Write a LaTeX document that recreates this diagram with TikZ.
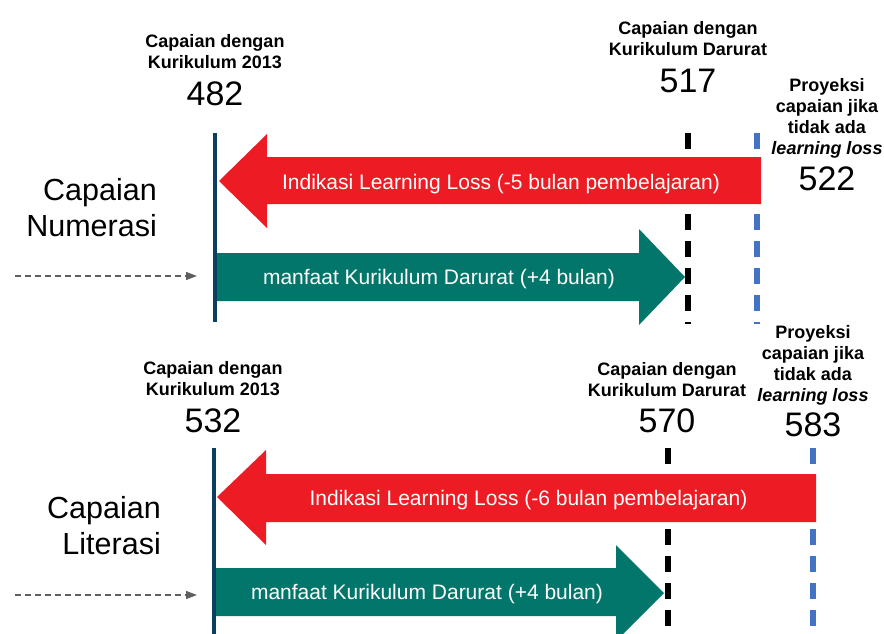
\documentclass[tikz,border=0pt]{standalone}
\usepackage{fontspec}
\setmainfont{Liberation Sans}
\usetikzlibrary{arrows.meta}
\definecolor{lossred}{HTML}{ED1C24}
\definecolor{gainteal}{HTML}{03766C}
\definecolor{axisnavy}{HTML}{0B3F5F}
\definecolor{projblue}{HTML}{4472C4}
\definecolor{inflowgray}{HTML}{5F5F5F}
\tikzset{
  caption/.style={align=center, inner sep=0pt,
                  font=\fontsize{18}{21}\selectfont\bfseries},
  score/.style={anchor=base, inner sep=0pt, font=\fontsize{34}{36}\selectfont},
  subject/.style={anchor=east, align=right, inner sep=0pt,
                  font=\fontsize{30.5}{36}\selectfont},
  bartext/.style={anchor=base, text=white, inner sep=0pt,
                  font=\fontsize{21}{24}\selectfont},
  axis/.style={draw=axisnavy, line width=4pt},
  markdar/.style={draw=black, line width=5.5pt, dash pattern=on 16pt off 11pt},
  markproj/.style={markdar, draw=projblue},
  inflow/.style={draw=inflowgray, line width=1.3pt, dash pattern=on 6pt off 4pt,
                 -{Triangle[length=11pt, width=8pt]}},
}

\begin{document}
\begin{tikzpicture}[x=1pt, y=-1pt]
  \useasboundingbox (0,0) rectangle (884,633);

  % --- numerasi (top) ---
  \draw[axis] (215,133) -- (215,322);
  \draw[markdar] (688,133) -- (688,324);
  \draw[markproj] (757,133) -- (757,324);
  \fill[lossred] (219,181) -- (267,134) -- (267,157) -- (761,157) -- (761,204)
    -- (267,204) -- (267,228) -- cycle;
  \fill[gainteal] (217,253) -- (639,253) -- (639,229) -- (685,277) -- (639,325)
    -- (639,301) -- (217,301) -- cycle;

  \node[caption] (numK13) at (215,52) {Capaian dengan\\Kurikulum 2013};
  \node[score] (numK13v) at (215,105) {482};
  \node[caption] (numDar) at (688,39) {Capaian dengan\\Kurikulum Darurat};
  \node[score] (numDarv) at (688,92) {517};
  \node[caption] (numProj) at (827,118) {Proyeksi\\capaian jika\\tidak ada\\\textit{learning loss}};
  \node[score] (numProjv) at (827,190) {522};
  \node[subject] (numSubj) at (157,208) {Capaian\\Numerasi};
  \node[bartext] (numLoss) at (501,189.5) {Indikasi Learning Loss (-5 bulan pembelajaran)};
  \node[bartext] (numGain) at (439,284) {manfaat Kurikulum Darurat (+4 bulan)};

  \coordinate (numFrom) at (15,276);
  \coordinate (numTo) at (197,276);
  \draw[inflow] (numFrom) -- (numTo);

  % --- literasi (bottom) ---
  \draw[axis] (214,448) -- (214,640);
  \draw[markdar] (668,448) -- (668,640);
  \draw[markproj] (813,448) -- (813,640);
  \fill[lossred] (217,497) -- (266,450) -- (266,474) -- (816,474) -- (816,522)
    -- (266,522) -- (266,545) -- cycle;
  \fill[gainteal] (216,568) -- (616,568) -- (616,545) -- (664,593) -- (616,641)
    -- (616,616) -- (216,616) -- cycle;

  \node[caption] (litK13) at (213,378.5) {Capaian dengan\\Kurikulum 2013};
  \node[score] (litK13v) at (213,432) {532};
  \node[caption] (litDar) at (667,379.5) {Capaian dengan\\Kurikulum Darurat};
  \node[score] (litDarv) at (667,432) {570};
  \node[caption] (litProj) at (813,365) {Proyeksi\\capaian jika\\tidak ada\\\textit{learning loss}};
  \node[score] (litProjv) at (813,436) {583};
  \node[subject] (litSubj) at (161,525.5) {Capaian\\Literasi};
  \node[bartext] (litLoss) at (528.5,505) {Indikasi Learning Loss (-6 bulan pembelajaran)};
  \node[bartext] (litGain) at (427,599) {manfaat Kurikulum Darurat (+4 bulan)};

  \coordinate (litFrom) at (15,595);
  \coordinate (litTo) at (197,595);
  \draw[inflow] (litFrom) -- (litTo);

\end{tikzpicture}
\end{document}
